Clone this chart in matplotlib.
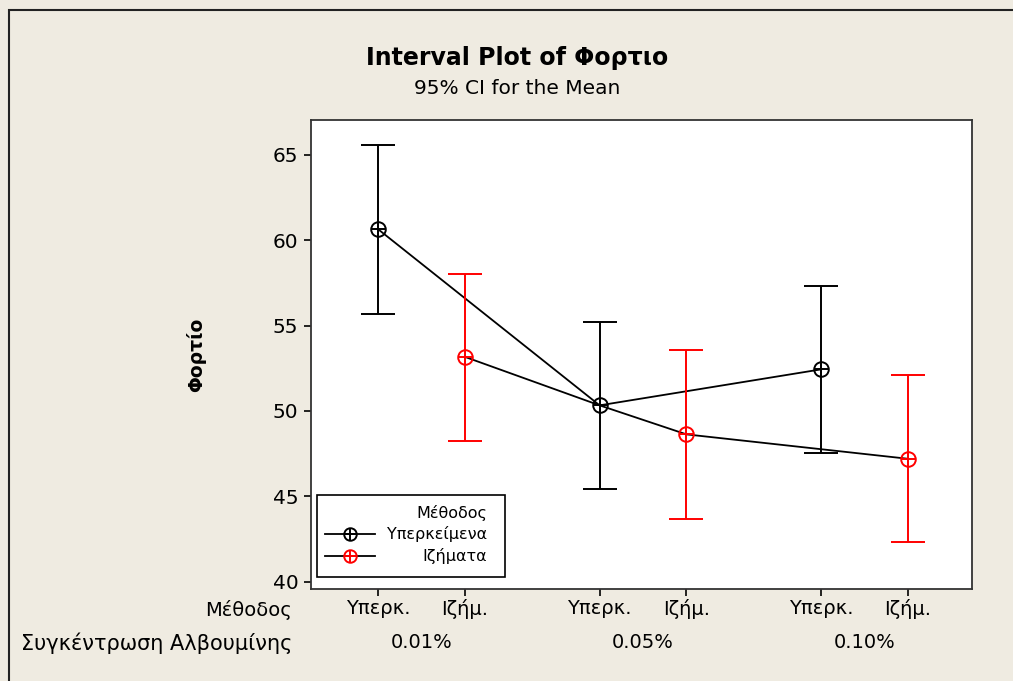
import numpy as np
import matplotlib
matplotlib.use("Agg")
import matplotlib.pyplot as plt
from matplotlib.lines import Line2D
from matplotlib.patches import Rectangle
import matplotlib.transforms as mtransforms

plt.rcParams['font.family'] = ['DejaVu Sans']

# data
groups = ['0.01%', '0.05%', '0.10%']
methods = ['Υπερκ.', 'Ιζήμ.']
legend_names = ['Υπερκείμενα', 'Ιζήματα']
means = {'Υπερκ.': [60.65, 50.33, 52.44], 'Ιζήμ.': [53.17, 48.63, 47.2]}
upper = {'Υπερκ.': [65.6, 55.2, 57.3], 'Ιζήμ.': [58.05, 53.55, 52.1]}
lower = {'Υπερκ.': [55.7, 45.45, 47.55], 'Ιζήμ.': [48.25, 43.7, 42.3]}
colors = {'Υπερκ.': 'black', 'Ιζήμ.': 'red'}

# connecting lines as drawn by minitab: (group index, method)
path_a = [(0, 'Υπερκ.'), (1, 'Υπερκ.'), (2, 'Υπερκ.')]
path_b = [(0, 'Ιζήμ.'), (1, 'Υπερκ.'), (1, 'Ιζήμ.'), (2, 'Ιζήμ.')]

bg = '#efebe1'
offset = 0.196

def xpos(g, m):
    return g + (-offset if m == 'Υπερκ.' else offset)

fig = plt.figure(figsize=(10.13, 6.81), dpi=100, facecolor=bg)
ax = fig.add_axes([311/1013, 1-589/681, 661/1013, 469/681])
ax.set_facecolor('white')

# outer frame
fig.patches.append(Rectangle((9/1013, -0.1), 1.2, (1-10/681)+0.1, transform=fig.transFigure,
                             fill=False, edgecolor='#222222', lw=1.5))

for path in [path_a, path_b]:
    xs = [xpos(g, m) for g, m in path]
    ys = [means[m][g] for g, m in path]
    ax.plot(xs, ys, color='black', lw=1.3, zorder=2)

for m in methods:
    xs = np.array([xpos(g, m) for g in range(3)])
    mu = np.array(means[m])
    err = [mu - np.array(lower[m]), np.array(upper[m]) - mu]
    ax.errorbar(xs, mu, yerr=err, fmt='none', ecolor=colors[m], elinewidth=1.4,
                capsize=12, capthick=1.4, zorder=3)
    ax.plot(xs, mu, 'o', mfc='none', mec=colors[m], ms=10.5, mew=1.4, zorder=4)
    ax.plot(xs, mu, '+', color=colors[m], ms=10.5, mew=1.4, zorder=4)

ax.set_xlim(-0.499, 2.485)
ax.set_ylim(39.57, 67.05)
ax.set_yticks([40, 45, 50, 55, 60, 65])
ticks = [xpos(g, m) for g in range(3) for m in methods]
ax.set_xticks(ticks)
ax.set_xticklabels([m for g in range(3) for m in methods])
ax.tick_params(axis='both', direction='out', length=5, width=1.2, labelsize=14, pad=4, colors='black')
ax.tick_params(axis='y', labelsize=14.5)
ax.tick_params(axis='x', pad=2)
for s in ax.spines.values():
    s.set_color('#333333')
    s.set_linewidth(1.3)

trans = mtransforms.blended_transform_factory(ax.transData, fig.transFigure)
for g, lab in enumerate(groups):
    ax.text(g, 1-643/681, lab, transform=trans, ha='center', va='center', fontsize=14)
fig.text(292/1013, 1-610/681, 'Μέθοδος', ha='right', va='center', fontsize=14)
fig.text(292/1013, 1-643/681, 'Συγκέντρωση Αλβουμίνης', ha='right', va='center', fontsize=15)

ax.set_ylabel('Φορτίο', fontsize=13.5, fontweight='bold', labelpad=48)

fig.text(517/1013, 1-58/681, 'Interval Plot of Φορτιο', ha='center', va='center',
         fontsize=17, fontweight='bold')
fig.text(517/1013, 1-88/681, '95% CI for the Mean', ha='center', va='center', fontsize=14.5)

# legend box, drawn by hand so the labels sit right-aligned
ax.add_patch(Rectangle((0.009, 0.0256), 0.2845, 0.1748, transform=ax.transAxes,
                       facecolor='white', edgecolor='black', lw=1.2, zorder=5))
ax.text(0.266, 0.162, 'Μέθοδος', transform=ax.transAxes, ha='right', va='center',
        fontsize=11.5, zorder=6)
for i, m in enumerate(methods):
    yy = 0.117 - i * 0.047
    ax.add_line(Line2D([0.021, 0.097], [yy, yy], transform=ax.transAxes, color='black',
                       lw=1.3, zorder=6))
    ax.add_line(Line2D([0.059], [yy], transform=ax.transAxes, marker='o', mfc='none',
                       mec=colors[m], ms=9, mew=1.4, zorder=7))
    ax.add_line(Line2D([0.059], [yy], transform=ax.transAxes, marker='+', color=colors[m],
                       ms=9, mew=1.4, zorder=7))
    ax.text(0.266, yy, legend_names[i], transform=ax.transAxes, ha='right', va='center',
            fontsize=11.5, zorder=6)

fig.savefig('out.png', dpi=100, facecolor=bg)
